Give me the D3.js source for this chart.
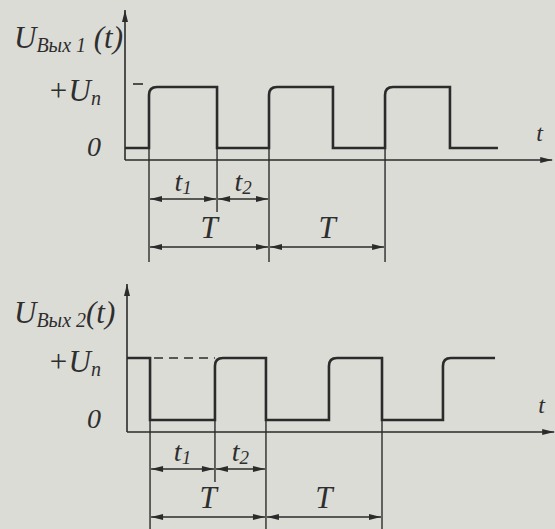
<!DOCTYPE html>
<html>
<head>
<meta charset="utf-8">
<script src="https://cdn.jsdelivr.net/npm/d3@7"></script>
<style>
  html, body { margin: 0; padding: 0; background: #dcdcd7; }
  svg { display: block; }
  text { font-family: "Liberation Serif", "DejaVu Serif", serif; font-style: italic; fill: #2e2e2e; }
</style>
</head>
<body>
<div id="chart"></div>
<script>
// Waveform data: edge times (arbitrary time units) and the level held after each edge
const wave1Times = [0, 2.0, 7.67, 12.0, 17.33, 21.67, 27.08, 31.08];
const wave1Levels = [0, 1, 0, 1, 0, 1, 0];
const wave2Times = [0, 1.92, 7.33, 11.58, 16.83, 21.25, 26.33, 30.67];
const wave2Levels = [1, 0, 1, 0, 1, 0, 1];

// Level labels and signal names
const levelLabels = [{ value: 1, main: '+U', sub: 'n' }, { value: 0, main: '0', sub: '' }];
const signalNames = [{ main: 'U', sub: 'Вых 1', tail: ' (t)' }, { main: 'U', sub: 'Вых 2', tail: '(t)' }];

// Dimension spans, given as edge indices into the time arrays
const spanNames = ['t1', 't2', 'T', 'T'];
const spanEdges = [[1, 2], [2, 3], [1, 3], [3, 5]];
const tAxisEnd = 35.6;

const W = 555, H = 529;
const ink = '#2b2b2b';

const svg = d3.select('#chart').append('svg')
  .attr('width', W).attr('height', H);

const defs = svg.append('defs');
defs.append('marker')
  .attr('id', 'arr')
  .attr('viewBox', '0 0 12 6')
  .attr('refX', 12).attr('refY', 3)
  .attr('markerWidth', 13).attr('markerHeight', 6)
  .attr('markerUnits', 'userSpaceOnUse')
  .attr('orient', 'auto-start-reverse')
  .append('path').attr('d', 'M0,0 L12,3 L0,6 Z').attr('fill', ink);

const panels = [
  { times: wave1Times, levels: wave1Levels, name: signalNames[0],
    x0: 125, yLow: 148, yHigh: 87, axisY: 160, yTop: 10, nameY: 48,
    row1: 199, row2: 247, extEnd: 262, shortEnd: 212, tickDash: true, dashed: false },
  { times: wave2Times, levels: wave2Levels, name: signalNames[1],
    x0: 127, yLow: 420, yHigh: 358, axisY: 432, yTop: 284, nameY: 323,
    row1: 469, row2: 517, extEnd: 529, shortEnd: 482, tickDash: false, dashed: true }
];

panels.forEach(p => {
  const x = d3.scaleLinear().domain([0, 36]).range([p.x0, p.x0 + 432]);
  const y = d3.scaleLinear().domain([0, 1]).range([p.yLow, p.yHigh]);
  const g = svg.append('g');

  // axes
  g.append('line')
    .attr('x1', x(0)).attr('y1', p.axisY)
    .attr('x2', x(0)).attr('y2', p.yTop)
    .attr('stroke', ink).attr('stroke-width', 1.6)
    .attr('marker-end', 'url(#arr)');
  g.append('line')
    .attr('x1', x(0)).attr('y1', p.axisY)
    .attr('x2', x(tAxisEnd)).attr('y2', p.axisY)
    .attr('stroke', ink).attr('stroke-width', 1.4)
    .attr('marker-end', 'url(#arr)');
  g.append('text')
    .attr('x', x(tAxisEnd) - 16).attr('y', p.axisY - 19)
    .attr('font-size', 24).text('t');

  // waveform with rounded corner on each rising edge
  const r = 8;
  const path = d3.path();
  path.moveTo(x(p.times[0]), y(p.levels[0]));
  p.levels.forEach((lv, i) => {
    const xa = x(p.times[i]);
    const xb = x(p.times[i + 1]);
    if (i > 0) {
      const prev = p.levels[i - 1];
      if (lv > prev) {
        path.lineTo(xa, y(lv) + r);
        path.quadraticCurveTo(xa, y(lv), xa + r, y(lv));
      } else {
        path.lineTo(xa, y(lv));
      }
    }
    path.lineTo(xb, y(lv));
  });
  g.append('path')
    .attr('d', path.toString())
    .attr('fill', 'none').attr('stroke', ink)
    .attr('stroke-width', 2.6).attr('stroke-linejoin', 'miter');

  if (p.tickDash) {
    g.append('line')
      .attr('x1', x(0) + 8).attr('x2', x(0) + 18)
      .attr('y1', y(1) - 3).attr('y2', y(1) - 3)
      .attr('stroke', ink).attr('stroke-width', 1.6);
  }
  if (p.dashed) {
    g.append('line')
      .attr('x1', x(p.times[1]) + 4).attr('x2', x(p.times[2]))
      .attr('y1', y(1)).attr('y2', y(1))
      .attr('stroke', ink).attr('stroke-width', 1.6)
      .attr('stroke-dasharray', '9,6');
  }

  // signal name
  const nm = g.append('text').attr('x', 14).attr('y', p.nameY).attr('font-size', 31);
  nm.append('tspan').text(p.name.main);
  nm.append('tspan').attr('font-size', 20).attr('dy', 4).text(p.name.sub);
  nm.append('tspan').attr('dy', -4).text(p.name.tail);

  // level labels
  levelLabels.forEach(l => {
    const t = g.append('text')
      .attr('x', 101)
      .attr('y', y(l.value) + (l.sub ? 14 : 8))
      .attr('text-anchor', 'end')
      .attr('font-size', l.sub ? 31 : 28);
    t.append('tspan').text(l.main);
    if (l.sub) t.append('tspan').attr('font-size', 20).attr('dy', 4).text(l.sub);
  });

  // extension lines
  const extIdx = [1, 2, 3, 5];
  extIdx.forEach(i => {
    g.append('line')
      .attr('x1', x(p.times[i])).attr('x2', x(p.times[i]))
      .attr('y1', p.yLow)
      .attr('y2', i === 2 ? p.shortEnd : p.extEnd)
      .attr('stroke', ink).attr('stroke-width', 1.4);
  });

  // dimension arrows
  spanNames.forEach((nmS, k) => {
    const [a, b] = spanEdges[k];
    const xa = x(p.times[a]), xb = x(p.times[b]);
    const rowY = nmS === 'T' ? p.row2 : p.row1;
    g.append('line')
      .attr('x1', xa + 1).attr('x2', xb - 1)
      .attr('y1', rowY).attr('y2', rowY)
      .attr('stroke', ink).attr('stroke-width', 1.4)
      .attr('marker-start', 'url(#arr)').attr('marker-end', 'url(#arr)');
    const lab = g.append('text')
      .attr('x', (xa + xb) / 2)
      .attr('y', rowY - (nmS === 'T' ? 9 : 8))
      .attr('text-anchor', 'middle')
      .attr('font-size', nmS === 'T' ? 31 : 28);
    lab.append('tspan').text(nmS[0]);
    if (nmS.length > 1) lab.append('tspan').attr('font-size', 19).attr('dy', 3).text(nmS.slice(1));
  });
});
</script>
</body>
</html>
